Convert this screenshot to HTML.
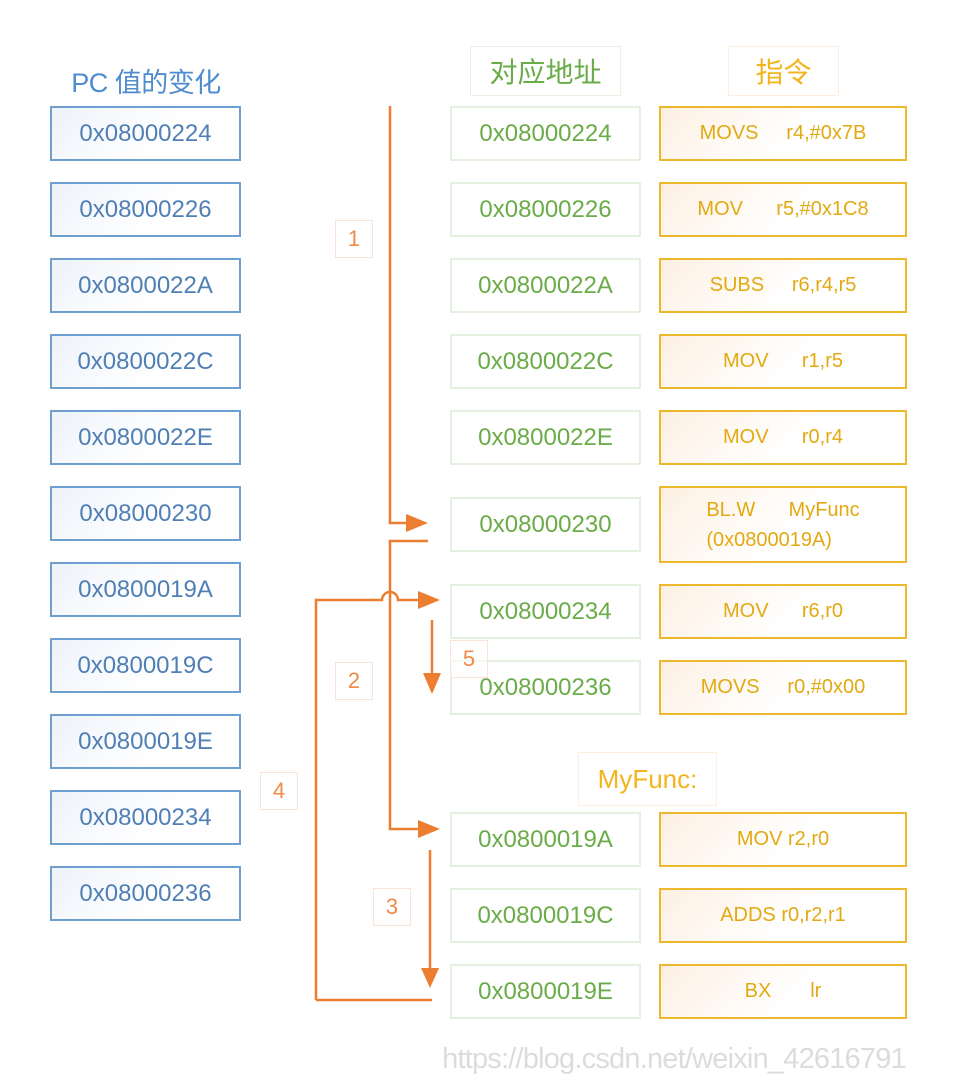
<!DOCTYPE html>
<html><head><meta charset="utf-8"><style>
body{margin:0;width:964px;height:1090px;background:#fff;position:relative;overflow:hidden;font-family:"Liberation Sans","Noto Sans CJK SC",sans-serif}
.b{position:absolute;box-sizing:border-box;display:flex;align-items:center;justify-content:center;white-space:pre}
.pc{left:50px;width:191px;height:55px;border:2px solid #6f9fd0;color:#4f7fb5;font-size:24px;background:linear-gradient(135deg,#eef3fa,#fff 60%)}
.ad{left:450px;width:191px;height:55px;border:2px solid #e6f0e0;color:#6aac48;font-size:24px}
.in{left:659px;width:248px;height:55px;border:2px solid #eeb82c;color:#e2a912;font-size:20px;background:linear-gradient(135deg,#fdf0e2,#fff 55%)}
.lb{border:1.5px solid #fbe3d6;color:#ef8a48;font-size:22px;width:38px;height:38px}
</style></head><body>
<div class="b" style="left:46px;top:58px;width:200px;height:44px;color:#4f8ccc;font-size:27px;letter-spacing:-0.5px">PC 值的变化</div>
<div class="b pc" style="top:106px">0x08000224</div>
<div class="b pc" style="top:182px">0x08000226</div>
<div class="b pc" style="top:258px">0x0800022A</div>
<div class="b pc" style="top:334px">0x0800022C</div>
<div class="b pc" style="top:410px">0x0800022E</div>
<div class="b pc" style="top:486px">0x08000230</div>
<div class="b pc" style="top:562px">0x0800019A</div>
<div class="b pc" style="top:638px">0x0800019C</div>
<div class="b pc" style="top:714px">0x0800019E</div>
<div class="b pc" style="top:790px">0x08000234</div>
<div class="b pc" style="top:866px">0x08000236</div>

<div class="b" style="left:470px;top:46px;width:151px;height:50px;border:1.5px solid #e8f2e2;color:#6aac48;font-size:28px">对应地址</div>
<div class="b" style="left:728px;top:46px;width:111px;height:50px;border:1.5px solid #fdeedd;color:#f3b41c;font-size:28px">指令</div>

<div class="b ad" style="top:106px">0x08000224</div>
<div class="b ad" style="top:182px">0x08000226</div>
<div class="b ad" style="top:258px">0x0800022A</div>
<div class="b ad" style="top:334px">0x0800022C</div>
<div class="b ad" style="top:410px">0x0800022E</div>
<div class="b ad" style="top:497px">0x08000230</div>
<div class="b ad" style="top:584px">0x08000234</div>
<div class="b ad" style="top:660px">0x08000236</div>
<div class="b ad" style="top:812px">0x0800019A</div>
<div class="b ad" style="top:888px">0x0800019C</div>
<div class="b ad" style="top:964px">0x0800019E</div>

<div class="b in" style="top:106px">MOVS     r4,#0x7B</div>
<div class="b in" style="top:182px">MOV      r5,#0x1C8</div>
<div class="b in" style="top:258px">SUBS     r6,r4,r5</div>
<div class="b in" style="top:334px">MOV      r1,r5</div>
<div class="b in" style="top:410px">MOV      r0,r4</div>
<div class="b in" style="top:486px;height:77px;flex-direction:column;line-height:30px">BL.W      MyFunc
(0x0800019A)</div>
<div class="b in" style="top:584px">MOV      r6,r0</div>
<div class="b in" style="top:660px">MOVS     r0,#0x00</div>
<div class="b in" style="top:812px">MOV r2,r0</div>
<div class="b in" style="top:888px">ADDS r0,r2,r1</div>
<div class="b in" style="top:964px">BX       lr</div>

<div class="b" style="left:578px;top:752px;width:139px;height:54px;border:1.5px solid #fdeedd;color:#f3b41c;font-size:26px">MyFunc:</div>

<svg style="position:absolute;left:0;top:0" width="964" height="1090">
<g stroke="#ed7d31" stroke-width="2.5" fill="none">
<path d="M390 106 V523 H410"/>
<path d="M428 541 H390 V829 H420"/>
<path d="M316 1000 V600 H382 A8 8 0 0 1 398 600 H420"/>
<path d="M316 1000 H432"/>
<path d="M432 620 V675"/>
<path d="M430 850 V970"/>
</g>
<g fill="#ed7d31">
<polygon points="406,514 428,523 406,532"/>
<polygon points="418,820 440,829 418,838"/>
<polygon points="418,591 440,600 418,609"/>
<polygon points="423,673 441,673 432,694"/>
<polygon points="421,968 439,968 430,988"/>
</g>
</svg>
<div class="b lb" style="left:335px;top:220px">1</div>
<div class="b lb" style="left:335px;top:662px">2</div>
<div class="b lb" style="left:450px;top:640px;background:rgba(255,255,255,.6)">5</div>
<div class="b lb" style="left:260px;top:772px">4</div>
<div class="b lb" style="left:373px;top:888px">3</div>

<div class="b" style="left:400px;top:1040px;width:548px;height:38px;color:#dcdcdc;font-size:29px;letter-spacing:-0.8px">https://blog.csdn.net/weixin_42616791</div>
</body></html>
